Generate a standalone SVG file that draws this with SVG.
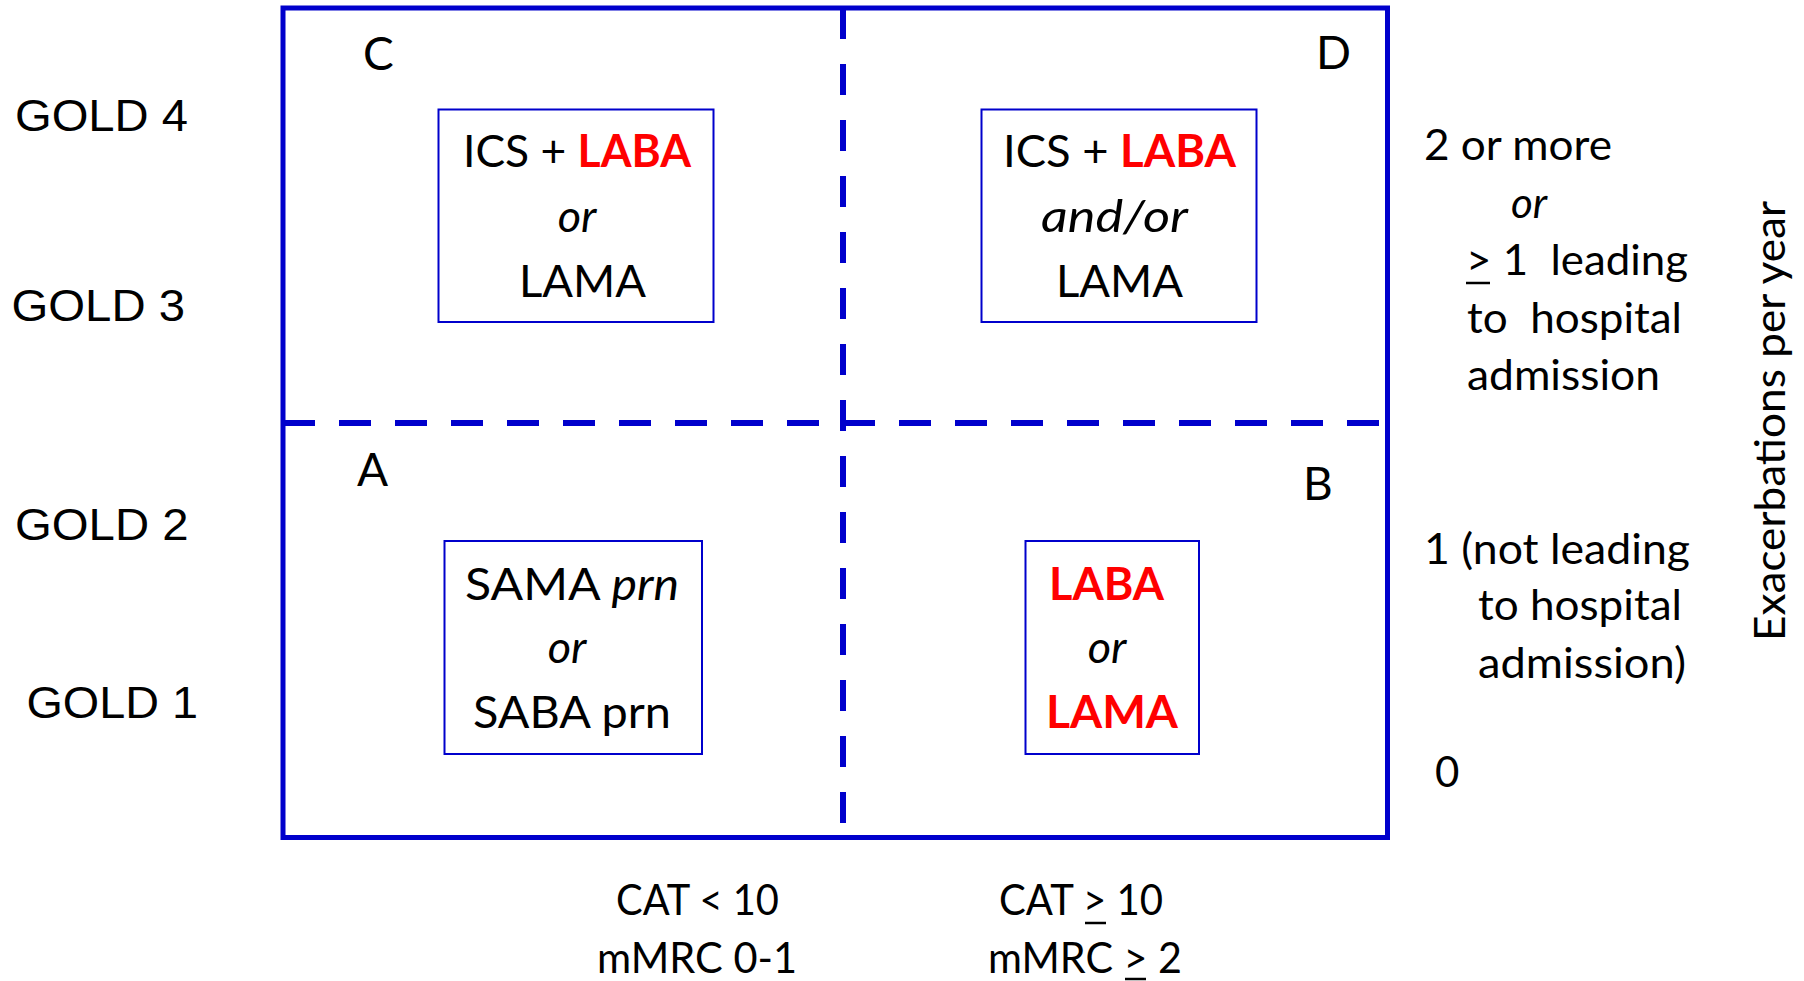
<svg xmlns="http://www.w3.org/2000/svg" width="1804" height="981" viewBox="0 0 1804 981">
<style>
.t{font-family:Lato,"Open Sans","Liberation Sans",sans-serif;fill:#000;white-space:pre}
.box{font-size:45px}
.side{font-size:42px}
.gold{font-family:"Liberation Sans",Arial,sans-serif;font-size:44px;fill:#000}
.q{font-size:46px}
.red{fill:#FF0000;font-weight:bold}
.it{font-style:italic}
.nb{fill:#fff;stroke:#0000CC;stroke-width:2}
.frame{fill:none;stroke:#0000CC;stroke-width:5}
.div{fill:none;stroke:#0000CC;stroke-width:6}
.ul{stroke:#000;stroke-width:2.5}
</style>
<rect x="0" y="0" width="1804" height="981" fill="#fff"/>
<g id="frame">
<rect class="frame" x="283" y="8" width="1104.5" height="829.5"/>
</g>
<g id="connectors">
<line class="div" x1="843" y1="8" x2="843" y2="823" stroke-dasharray="31 25"/>
<line class="div" x1="283" y1="423" x2="1381" y2="423" stroke-dasharray="32 24"/>
</g>
<g id="quadrant-C">
<text class="t q" x="363" y="70">C</text>
<rect class="nb" x="438.5" y="109.5" width="275" height="212.5"/>
<text class="t box" x="463" y="167" textLength="228" lengthAdjust="spacingAndGlyphs">ICS + <tspan class="red">LABA</tspan></text>
<text class="t box it" x="577" y="232" text-anchor="middle">or</text>
<text class="t box" x="519" y="297" textLength="127" lengthAdjust="spacingAndGlyphs">LAMA</text>
</g>
<g id="quadrant-D">
<text class="t q" x="1316" y="69">D</text>
<rect class="nb" x="981.5" y="109.5" width="275" height="212.5"/>
<text class="t box" x="1003" y="167" textLength="233" lengthAdjust="spacingAndGlyphs">ICS + <tspan class="red">LABA</tspan></text>
<text class="t box it" x="1041" y="232" textLength="147" lengthAdjust="spacingAndGlyphs">and/or</text>
<text class="t box" x="1056" y="297" textLength="127" lengthAdjust="spacingAndGlyphs">LAMA</text>
</g>
<g id="quadrant-A">
<text class="t q" x="357" y="486">A</text>
<rect class="nb" x="444.5" y="541" width="257.5" height="213"/>
<text class="t box" x="465" y="600" textLength="214" lengthAdjust="spacingAndGlyphs">SAMA <tspan class="it">prn</tspan></text>
<text class="t box it" x="567" y="663" text-anchor="middle">or</text>
<text class="t box" x="473" y="728" textLength="198" lengthAdjust="spacingAndGlyphs">SABA prn</text>
</g>
<g id="quadrant-B">
<text class="t q" x="1303" y="500">B</text>
<rect class="nb" x="1025.5" y="541" width="173.5" height="213"/>
<text class="t box red" x="1049" y="600" textLength="115" lengthAdjust="spacingAndGlyphs">LABA</text>
<text class="t box it" x="1107" y="663" text-anchor="middle">or</text>
<text class="t box red" x="1046" y="728" textLength="132" lengthAdjust="spacingAndGlyphs">LAMA</text>
</g>
<g id="gold-labels">
<text class="gold" x="15" y="131" textLength="173" lengthAdjust="spacingAndGlyphs">GOLD 4</text>
<text class="gold" x="11.5" y="320.5" textLength="173.5" lengthAdjust="spacingAndGlyphs">GOLD 3</text>
<text class="gold" x="15" y="540" textLength="173.5" lengthAdjust="spacingAndGlyphs">GOLD 2</text>
<text class="gold" x="26.5" y="717.5" textLength="171.5" lengthAdjust="spacingAndGlyphs">GOLD 1</text>
</g>
<g id="exacerbation-labels">
<text class="t side" x="1424" y="160" textLength="188" lengthAdjust="spacingAndGlyphs">2 or more</text>
<text class="t side it" x="1511" y="217.5">or</text>
<text class="t side" x="1466" y="275" textLength="222" lengthAdjust="spacingAndGlyphs">&gt; 1  leading</text>
<line class="ul" x1="1466" y1="283" x2="1490" y2="283"/>
<text class="t side" x="1467" y="332.5" textLength="215" lengthAdjust="spacingAndGlyphs">to  hospital</text>
<text class="t side" x="1467" y="390" textLength="193" lengthAdjust="spacingAndGlyphs">admission</text>
<text class="t side" x="1424" y="564" textLength="266" lengthAdjust="spacingAndGlyphs">1 (not leading</text>
<text class="t side" x="1478" y="620" textLength="204" lengthAdjust="spacingAndGlyphs">to hospital</text>
<text class="t side" x="1478" y="678" textLength="208" lengthAdjust="spacingAndGlyphs">admission)</text>
<text class="t side" x="1435" y="787">0</text>
<text class="t side" transform="translate(1785,421) rotate(-90)" x="0" y="0" text-anchor="middle" textLength="440" lengthAdjust="spacingAndGlyphs">Exacerbations per year</text>
</g>
<g id="symptom-labels">
<text class="t side" x="616" y="915" textLength="163" lengthAdjust="spacingAndGlyphs">CAT &lt; 10</text>
<text class="t side" x="597" y="973" textLength="200" lengthAdjust="spacingAndGlyphs">mMRC 0-1</text>
<text class="t side" x="999" y="915" textLength="164" lengthAdjust="spacingAndGlyphs">CAT &gt; 10</text>
<line class="ul" x1="1085" y1="923" x2="1106" y2="923"/>
<text class="t side" x="988" y="973" textLength="194" lengthAdjust="spacingAndGlyphs">mMRC &gt; 2</text>
<line class="ul" x1="1125" y1="979" x2="1146" y2="979"/>
</g>
</svg>
